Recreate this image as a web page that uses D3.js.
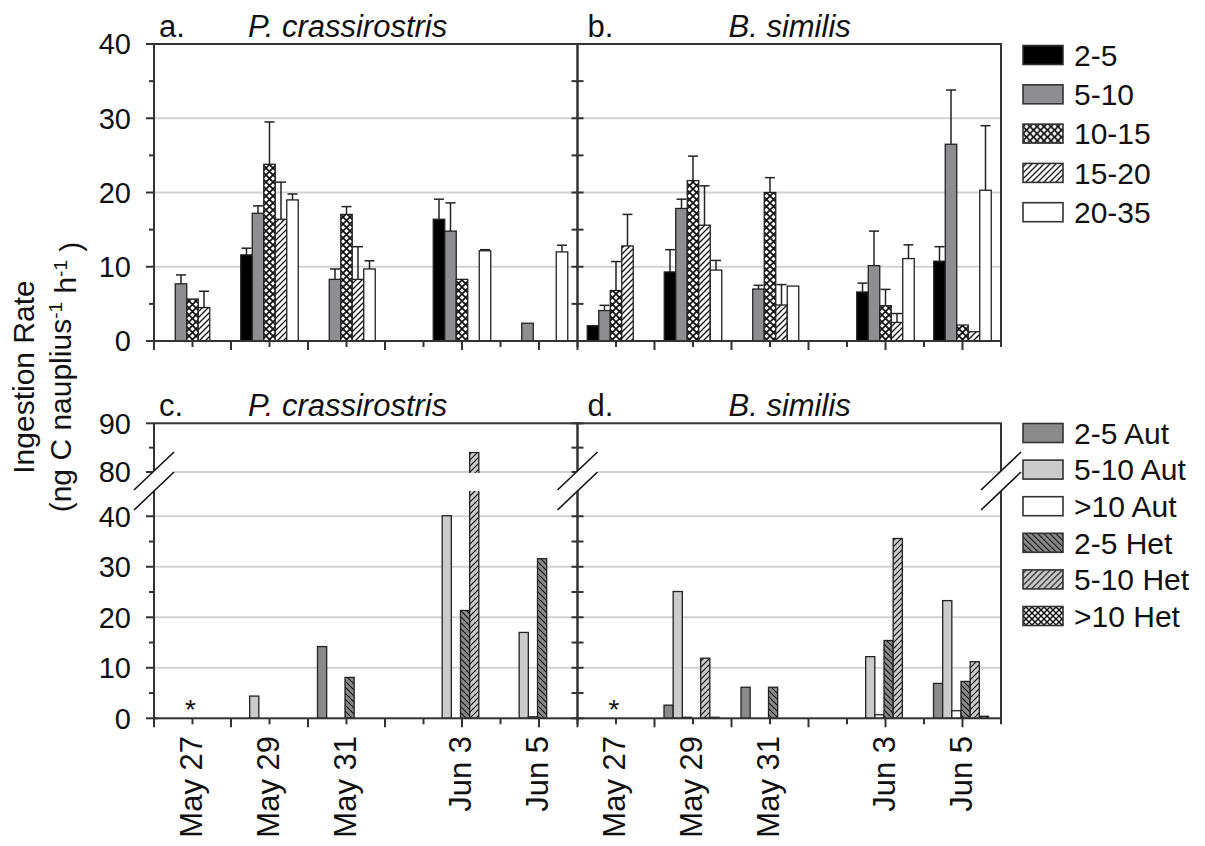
<!DOCTYPE html>
<meta charset="utf-8">
<style>
body { margin: 0; background: #fff; }
svg text { font-family: "Liberation Sans", Arial, Helvetica, sans-serif; fill: #111; }
</style>
<svg width="1205" height="846"></svg>
<script src="https://d3js.org/d3.v7.min.js"></script>
<script>

// ---- data ----
var dates = ["2007-05-27", "2007-05-29", "2007-05-31", "2007-06-03", "2007-06-05"];
var dateLabels = ["May 27", "May 29", "May 31", "Jun 3", "Jun 5"];

// top row: size classes (um)
var sizeClasses = ["2-5", "5-10", "10-15", "15-20", "20-35"];
var pcRate = [
  [0, 7.7, 5.65, 4.5, 0],
  [11.6, 17.2, 23.8, 16.4, 19.0],
  [0, 8.3, 17.05, 8.3, 9.7],
  [16.4, 14.8, 8.3, 0, 12.15],
  [0, 2.4, 0, 0, 12.0]
];
var pcErr = [
  [0, 1.2, 0, 2.2, 0],
  [0.9, 1.0, 5.7, 5.0, 0.8],
  [0, 1.4, 1.05, 4.4, 1.1],
  [2.7, 3.8, 0, 0, 0.15],
  [0, 0, 0, 0, 0.9]
];
var bsRate = [
  [2.06, 4.1, 6.8, 12.8, 0],
  [9.3, 17.85, 21.6, 15.6, 9.55],
  [0, 7.0, 20.0, 4.85, 7.4],
  [6.6, 10.15, 4.75, 2.5, 11.1],
  [10.75, 26.5, 2.15, 1.25, 20.3]
];
var bsErr = [
  [0, 0.7, 3.9, 4.25, 0],
  [3.0, 1.25, 3.3, 5.3, 1.3],
  [0, 0.5, 2.0, 2.75, 0],
  [1.2, 4.65, 2.2, 1.2, 1.85],
  [1.95, 7.3, 0, 0, 8.7]
];

// bottom row: prey groups
var preyGroups = ["2-5 Aut", "5-10 Aut", ">10 Aut", "2-5 Het", "5-10 Het", ">10 Het"];
var pcPrey = [
  null,
  [0, 4.4, 0, 0, 0, 0],
  [14.2, 0, 0, 8.1, 0, 0],
  [0, 40.1, 0, 21.35, 84, 0],
  [0, 17.0, 0.3, 31.6, 0, 0]
];
var bsPrey = [
  null,
  [2.6, 25.1, 0.2, 0, 11.9, 0.2],
  [6.15, 0, 0, 6.15, 0, 0],
  [0, 12.2, 0.7, 15.4, 35.6, 0],
  [6.9, 23.3, 1.5, 7.3, 11.2, 0.4]
];

var topTicks = [0, 10, 20, 30, 40], topMinor = [5, 15, 25, 35];
var botTicks = [0, 10, 20, 30, 40, 80, 90], botMinor = [5, 15, 25, 35, 85];

// ---- setup ----
var svg = d3.select("svg");
var parse = d3.utcParse("%Y-%m-%d");
var dayStart = parse("2007-05-26"), dayEnd = parse("2007-06-06");
var days = d3.utcDay.range(dayStart, d3.utcDay.offset(dayEnd, 1));
var ink = "#222";

var defs = svg.append("defs");
function hatch(id, size, bg, d, w) {
  var p = defs.append("pattern").attr("id", id).attr("patternUnits", "userSpaceOnUse")
    .attr("width", size).attr("height", size);
  p.append("rect").attr("width", size).attr("height", size).attr("fill", bg);
  p.append("path").attr("d", d).attr("stroke", "#111").attr("stroke-width", w).attr("fill", "none");
}
var fwd6 = "M0,6L6,0M-1.5,1.5L1.5,-1.5M4.5,7.5L7.5,4.5";
var back6 = "M0,0L6,6M-1.5,4.5L1.5,7.5M4.5,-1.5L7.5,1.5";
hatch("xh", 7, "#fff", "M0,0L7,7M7,0L0,7", 1.7);
hatch("fwd", 6, "#fff", fwd6, 1.3);
hatch("hetBack", 6, "#8a8a8a", back6, 1.2);
hatch("hetFwd", 6, "#cbcbcb", fwd6, 1.2);
hatch("hetXh", 6, "#fff", "M0,0L6,6M6,0L0,6", 1.5);

var topFill = d3.scaleOrdinal().domain(sizeClasses)
  .range(["#000", "#8e8e90", "url(#xh)", "url(#fwd)", "#fff"]);
var botFill = d3.scaleOrdinal().domain(preyGroups)
  .range(["#8a8a8a", "#cbcbcb", "#fff", "url(#hetBack)", "url(#hetFwd)", "url(#hetXh)"]);

var yTop = d3.scaleLinear().domain([0, 40]).range([341, 44]);
var yBot = d3.scaleLinear().domain([0, 45, 80, 90]).range([718.3, 491, 472, 423.3]);

var innerTop = d3.scaleBand().domain(sizeClasses).range([-28.75, 28.75]);
var innerBot = d3.scaleBand().domain(preyGroups).range([-29, 26]);

var panels = [
  {x0: 154, x1: 577.5, y: yTop, row: "top", letter: "a.", sp: "P. crassirostris", rate: pcRate, err: pcErr},
  {x0: 577.5, x1: 1001, y: yTop, row: "top", letter: "b.", sp: "B. similis", rate: bsRate, err: bsErr},
  {x0: 154, x1: 577.5, y: yBot, row: "bot", letter: "c.", sp: "P. crassirostris", rate: pcPrey},
  {x0: 577.5, x1: 1001, y: yBot, row: "bot", letter: "d.", sp: "B. similis", rate: bsPrey}
];

panels.forEach(function(p, pi) {
  var x = d3.scaleUtc().domain([dayStart, dayEnd]).range([p.x0, p.x1]);
  var y = p.y;
  var ticks = p.row === "top" ? topTicks : botTicks;
  var minor = p.row === "top" ? topMinor : botMinor;
  var inner = p.row === "top" ? innerTop : innerBot;
  var cats = p.row === "top" ? sizeClasses : preyGroups;
  var fill = p.row === "top" ? topFill : botFill;
  var y0 = y(0), yTopEdge = y.range()[y.range().length - 1];
  var g = svg.append("g");

  // gridlines
  g.selectAll(".grid").data(ticks.filter(function(t) { return t > 0 && t < y.domain()[y.domain().length - 1]; }))
    .enter().append("line")
    .attr("x1", p.x0).attr("x2", p.x1)
    .attr("y1", function(d) { return y(d); }).attr("y2", function(d) { return y(d); })
    .attr("stroke", "#d2d2d2").attr("stroke-width", 2);

  // bars
  var bars = [];
  p.rate.forEach(function(row, di) {
    if (!row) return;
    row.forEach(function(v, ci) {
      if (v > 0) bars.push({date: parse(dates[di]), cat: cats[ci], v: v, e: p.err ? p.err[di][ci] : 0});
    });
  });
  g.selectAll(".bar").data(bars).enter().append("rect")
    .attr("x", function(d) { return x(d.date) + inner(d.cat); })
    .attr("width", inner.bandwidth())
    .attr("y", function(d) { return y(d.v); })
    .attr("height", function(d) { return y0 - y(d.v); })
    .attr("fill", function(d) { return fill(d.cat); })
    .attr("stroke", ink).attr("stroke-width", 1.3);

  // axis break gap inside tall bars
  if (p.row === "bot") {
    g.selectAll(".gap").data(bars.filter(function(d) { return d.v > 80; })).enter().append("rect")
      .attr("x", function(d) { return x(d.date) + inner(d.cat) - 2; })
      .attr("width", inner.bandwidth() + 4)
      .attr("y", y(80) + 1).attr("height", y(45) - y(80) - 1)
      .attr("fill", "#fff");
  }

  // error bars
  var eb = g.selectAll(".err").data(bars.filter(function(d) { return d.e > 0; })).enter().append("g")
    .attr("stroke", ink).attr("stroke-width", 1.5);
  eb.append("line")
    .attr("x1", function(d) { return x(d.date) + inner(d.cat) + inner.bandwidth() / 2; })
    .attr("x2", function(d) { return x(d.date) + inner(d.cat) + inner.bandwidth() / 2; })
    .attr("y1", function(d) { return y(d.v); }).attr("y2", function(d) { return y(d.v + d.e); });
  eb.append("line")
    .attr("x1", function(d) { return x(d.date) + inner(d.cat) + inner.bandwidth() / 2 - 5; })
    .attr("x2", function(d) { return x(d.date) + inner(d.cat) + inner.bandwidth() / 2 + 5; })
    .attr("y1", function(d) { return y(d.v + d.e); }).attr("y2", function(d) { return y(d.v + d.e); });

  // asterisk for missing first date
  if (p.row === "bot" && !p.rate[0]) {
    g.append("text").attr("x", x(parse(dates[0])) - 2).attr("y", y0 + 1)
      .attr("text-anchor", "middle").style("font-size", "28px").text("*");
  }

  // frame
  g.append("rect").attr("x", p.x0).attr("y", yTopEdge).attr("width", p.x1 - p.x0).attr("height", y0 - yTopEdge)
    .attr("fill", "none").attr("stroke", "#333").attr("stroke-width", 2);

  // y ticks
  var left = pi % 2 === 0;
  var tx0 = left ? p.x0 - 8 : p.x0 - 6, tx1 = left ? p.x0 : p.x0 + 6;
  g.selectAll(".yt").data(ticks).enter().append("line")
    .attr("x1", tx0)
    .attr("x2", function(d) { return d === 0 && left ? p.x0 + 4 : tx1; })
    .attr("y1", function(d) { return y(d); }).attr("y2", function(d) { return y(d); })
    .attr("stroke", "#333").attr("stroke-width", 2);
  g.selectAll(".ym").data(minor).enter().append("line")
    .attr("x1", left ? p.x0 - 5 : p.x0 - 6).attr("x2", left ? p.x0 : p.x0 + 6)
    .attr("y1", function(d) { return y(d); }).attr("y2", function(d) { return y(d); })
    .attr("stroke", "#333").attr("stroke-width", 2);
  if (left) {
    g.selectAll(".yl").data(ticks).enter().append("text")
      .attr("x", 131).attr("y", function(d) { return y(d); }).attr("dy", "0.36em")
      .attr("text-anchor", "end").style("font-size", "29px").text(function(d) { return d; });
  }

  // x ticks
  g.selectAll(".xt").data(days).enter().append("line")
    .attr("x1", function(d) { return x(d); }).attr("x2", function(d) { return x(d); })
    .attr("y1", y0).attr("y2", function(d, i) { return y0 + (i % 2 === 0 ? 9 : 6); })
    .attr("stroke", "#333").attr("stroke-width", 2);

  if (p.row === "bot") {
    g.selectAll(".xl").data(dates).enter().append("text")
      .attr("transform", function(d) { return "translate(" + (x(parse(d)) - 2) + ",736) rotate(-90)"; })
      .attr("dy", "0.36em").attr("text-anchor", "end").style("font-size", "31px")
      .text(function(d, i) { return dateLabels[i]; });
  }

  // titles
  var ty = yTopEdge - 7;
  g.append("text").attr("x", p.x0 + (left ? 5 : 10)).attr("y", ty).style("font-size", "31px").text(p.letter);
  g.append("text").attr("x", p.x0 + (left ? 94 : 151)).attr("y", ty)
    .style("font-size", "31px").style("font-style", "italic").text(p.sp);
});

// axis break marks on the lower row
[154, 577.5, 1001].forEach(function(ax) {
  var ya = 471, yb = 491, dx = 20, dy = 19;
  svg.append("polygon")
    .attr("points", [[ax - dx, ya + dy], [ax + dx, ya - dy], [ax + dx, yb - dy], [ax - dx, yb + dy]].join(" "))
    .attr("fill", "#fff");
  [ya, yb].forEach(function(yc) {
    svg.append("line").attr("x1", ax - dx).attr("y1", yc + dy).attr("x2", ax + dx).attr("y2", yc - dy)
      .attr("stroke", "#111").attr("stroke-width", 1.6);
  });
});

// legends
function legend(items, fill, yStart, step) {
  var lg = svg.append("g");
  var row = lg.selectAll("g").data(items).enter().append("g")
    .attr("transform", function(d, i) { return "translate(1023," + (yStart + i * step) + ")"; });
  row.append("rect").attr("x", 0).attr("y", -9.5).attr("width", 40).attr("height", 19)
    .attr("fill", function(d) { return fill(d); }).attr("stroke", "#333").attr("stroke-width", 1.6);
  row.append("text").attr("x", 51).attr("dy", "0.36em").style("font-size", "30px").text(function(d) { return d; });
}
legend(sizeClasses, topFill, 55, 39.3);
legend(preyGroups, botFill, 433, 36.6);

// y axis title
var yt = svg.append("g").attr("transform", "translate(0,377)");
yt.append("text").attr("transform", "translate(34,0) rotate(-90)").attr("text-anchor", "middle")
  .style("font-size", "30px").text("Ingestion Rate");
var t2 = yt.append("text").attr("transform", "translate(71,0) rotate(-90)").attr("text-anchor", "middle")
  .style("font-size", "30px");
t2.append("tspan").text("(ng C nauplius");
t2.append("tspan").attr("dy", "-0.45em").style("font-size", "19px").text("-1");
t2.append("tspan").attr("dy", "0.45em").text(" h");
t2.append("tspan").attr("dy", "-0.45em").style("font-size", "19px").text("-1");
t2.append("tspan").attr("dy", "0.45em").text(" )");

</script>
